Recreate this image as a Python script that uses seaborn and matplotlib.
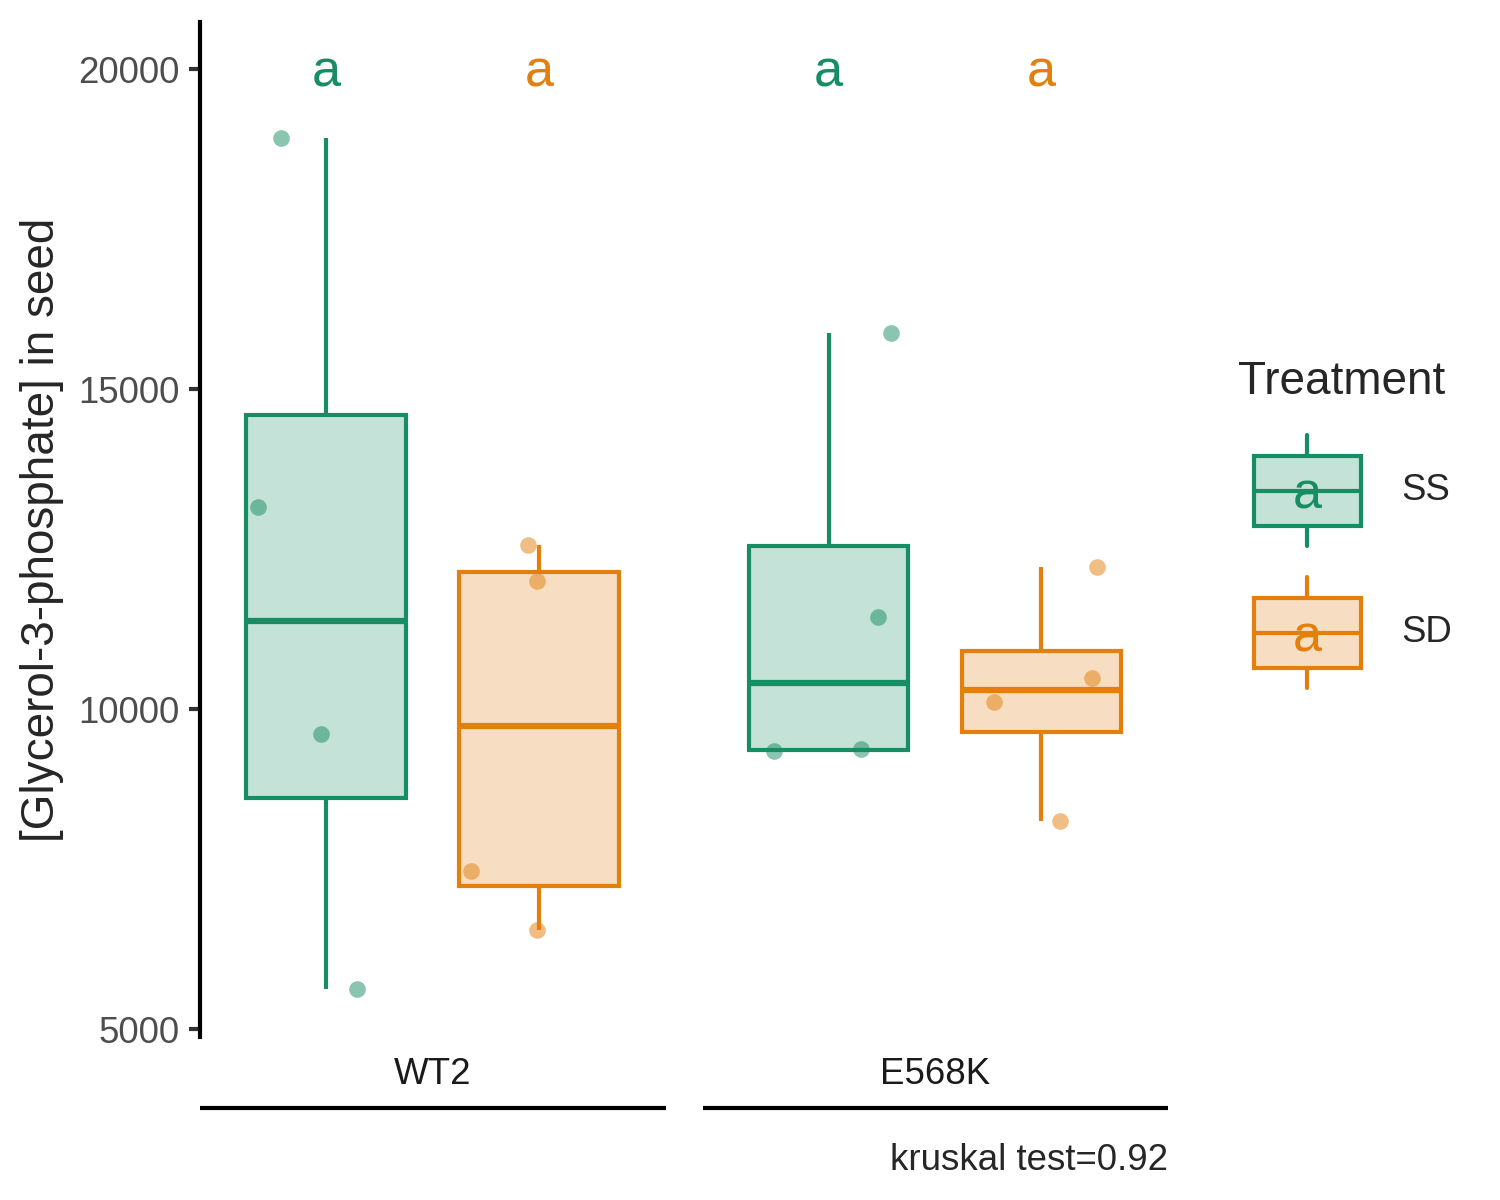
import numpy as np
import pandas as pd
import matplotlib
matplotlib.use("Agg")
import matplotlib.pyplot as plt
import seaborn as sns
from matplotlib.legend_handler import HandlerBase
from matplotlib.patches import Rectangle, Patch
from matplotlib.lines import Line2D
from matplotlib.text import Text
from matplotlib.colors import to_rgba

# ---------------- data ----------------
genotypes = ["WT2", "E568K"]
treatments = ["SS", "SD"]
wt2_ss = [18923, 13164, 9605, 5625]
wt2_sd = [12571, 12009, 7467, 6546]
e568k_ss = [15880, 11447, 9371, 9340]
e568k_sd = [12227, 10479, 10105, 8247]
letters_wt2 = ["a", "a"]
letters_e568k = ["a", "a"]
y_ticks = [5000, 10000, 15000, 20000]
letter_y = 20000
kruskal_p = 0.92
y_label = "[Glycerol-3-phosphate] in seed"

colors = {"SS": "#168D62", "SD": "#E37F0D"}

rows = []
for g, series in zip(genotypes, [(wt2_ss, wt2_sd), (e568k_ss, e568k_sd)]):
    for t, vals in zip(treatments, series):
        for v in vals:
            rows.append({"Genotype": g, "Treatment": t, "value": v})
df = pd.DataFrame(rows)
letters = {"WT2": letters_wt2, "E568K": letters_e568k}

# ---------------- style ----------------
sns.set_style("white")
plt.rcParams["font.family"] = ["Liberation Sans", "DejaVu Sans"]

fig = plt.figure(figsize=(5, 4), dpi=300)
ax_bottom = 1 - 1037 / 1200
ax_h = (1037 - 22) / 1200
ax1 = fig.add_axes([200 / 1500, ax_bottom, 466 / 1500, ax_h])
ax2 = fig.add_axes([703 / 1500, ax_bottom, 465 / 1500, ax_h], sharey=ax1)

np.random.seed(11)
for ax, g in zip([ax1, ax2], genotypes):
    sub = df[df["Genotype"] == g]
    for t in treatments:
        c = colors[t]
        st = sub[sub["Treatment"] == t]
        sns.boxplot(data=st, x="Treatment", y="value", order=treatments,
                    width=0.75, showfliers=False, showcaps=False,
                    linewidth=1.0, ax=ax,
                    boxprops=dict(facecolor=to_rgba(c, 0.25), edgecolor=c, linewidth=1.0),
                    whiskerprops=dict(color=c, linewidth=1.0),
                    medianprops=dict(color=c, linewidth=1.5))
        sns.stripplot(data=st, x="Treatment", y="value", order=treatments,
                      color=c, alpha=0.5, size=4.0, jitter=0.33, linewidth=0,
                      ax=ax, zorder=3)
    for i, t in enumerate(treatments):
        ax.annotate(letters[g][i], xy=(i, letter_y), xytext=(0, -4.2),
                    textcoords="offset points", color=colors[t], ha="center",
                    va="baseline", fontsize=12.5)
    ax.set_xlim(-0.59, 1.595)
    ax.set_xlabel("")
    ax.set_ylabel("")
    ax.set_xticks([])
    ax.grid(False)
    for s in ["top", "right", "bottom"]:
        ax.spines[s].set_visible(False)
    # strip label and line below the panel
    ax.text(0.5, -(1075 - 1037) / 1015, g, transform=ax.transAxes, ha="center",
            va="center", fontsize=8.8, color="#1A1A1A")
    ax.plot([0, 1], [-(1108 - 1037) / 1015] * 2, transform=ax.transAxes,
            color="black", lw=1.0, clip_on=False, solid_capstyle="butt")

ax1.set_ylim(4875, 20740)
ax1.set_yticks(y_ticks)
ax1.set_yticklabels([str(v) for v in y_ticks])
ax1.tick_params(axis="y", length=2.75, width=1.0, color="#333333",
                labelsize=8.8, labelcolor="#4D4D4D", pad=2.2, left=True)
ax1.spines["left"].set_linewidth(1.0)
ax1.spines["left"].set_color("black")
ax2.spines["left"].set_visible(False)
ax2.tick_params(axis="y", left=False, labelleft=False)

fig.text(42 / 1500, 1 - 529.5 / 1200, y_label, rotation=90, ha="center",
         va="center", fontsize=11)
fig.text(1168 / 1500, 1 - 1160 / 1200, f"kruskal test={kruskal_p}",
         ha="right", va="center", fontsize=8.8)


# ---------------- legend ----------------
KEY_OFFSET = 3.8  # points of indentation of the key under the title


class BoxKeyHandler(HandlerBase):
    def __init__(self, color, letter):
        super().__init__()
        self.color = color
        self.letter = letter

    def create_artists(self, legend, orig_handle, xdescent, ydescent, width,
                       height, fontsize, trans):
        x0, y0 = -xdescent + KEY_OFFSET, -ydescent
        w = width - KEY_OFFSET
        cx = x0 + w / 2
        cy = y0 + height / 2
        bh = height * 0.63
        by = y0 + (height - bh) / 2
        rect = Rectangle((x0, by), w, bh, facecolor=to_rgba(self.color, 0.25),
                         edgecolor=self.color, lw=1.0, transform=trans)
        w1 = Line2D([cx, cx], [y0, by], color=self.color, lw=1.0, transform=trans)
        w2 = Line2D([cx, cx], [by + bh, y0 + height], color=self.color, lw=1.0,
                    transform=trans)
        med = Line2D([x0, x0 + w], [cy] * 2, color=self.color,
                     lw=1.0, transform=trans)
        txt = Text(cx, cy - 4.4, self.letter, color=self.color,
                   ha="center", va="baseline", fontsize=12.5, transform=trans)
        return [rect, w1, w2, med, txt]


handles = [Patch(label=t) for t in treatments]
hmap = {h: BoxKeyHandler(colors[t], "a") for h, t in zip(handles, treatments)}
leg = fig.legend(handles=handles, labels=treatments, handler_map=hmap,
                 loc="upper left", bbox_to_anchor=(1238 / 1500, 1 - 360 / 1200),
                 frameon=False, fontsize=8.8, title="Treatment",
                 title_fontsize=11, handlelength=3.35, handleheight=4.28,
                 labelspacing=0.85, handletextpad=1.1, borderpad=0,
                 borderaxespad=0, alignment="left")

fig.savefig("out.png", dpi=300)
